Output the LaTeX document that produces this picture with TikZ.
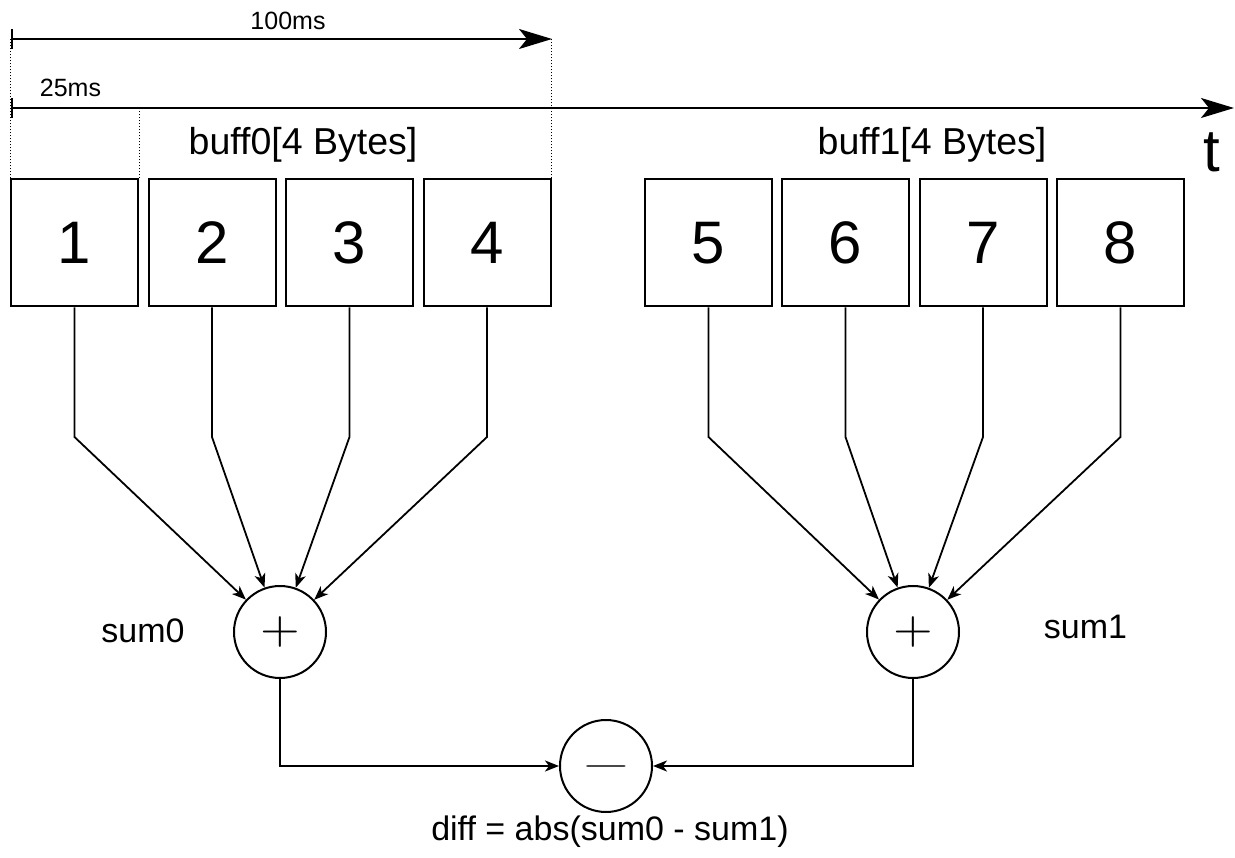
\documentclass[tikz,border=0pt]{standalone}
\usepackage{graphicx}
\usepackage{fontspec}
\setmainfont{Liberation Sans}
\usetikzlibrary{arrows.meta,calc}
\begin{document}
\begin{tikzpicture}[x=1pt,y=-1pt,
  box/.style={draw, line width=2pt, minimum width=127pt, minimum height=127pt, inner sep=0pt, font=\fontsize{60}{60}\selectfont},
  op/.style={draw, circle, line width=2pt, minimum size=92pt, inner sep=0pt},
  conn/.style={line width=1.8pt, -{Stealth[length=14pt,width=11pt,inset=4pt]}},
  axis/.style={line width=2pt, {Bar[width=20pt]}-{Stealth[length=33pt,width=20pt,inset=8pt]}},
  guide/.style={line width=0.9pt, dash pattern=on 1.5pt off 1.5pt},
  lbl/.style={anchor=base, inner sep=0pt}]
\useasboundingbox (0,0) rectangle (1235,858);

% boxes
\node[box] (b1) at (74.5,243) {1};
\node[box] (b2) at (212,243) {2};
\node[box] (b3) at (349.5,243) {3};
\node[box] (b4) at (487,243) {4};
\node[box] (b5) at (708.5,243) {5};
\node[box] (b6) at (845.5,243) {6};
\node[box] (b7) at (983,243) {7};
\node[box] (b8) at (1120.5,243) {8};

% operators
\node[op] (s0) at (280,632) {\scalebox{5.1}[4.6]{$+$}};
\node[op] (s1) at (913,632) {\scalebox{5.1}[4.6]{$+$}};
\node[op] (d) at (606,766) {\scalebox{6.4}[3.6]{$-$}};

% time axes
\coordinate (a0) at (11,39);
\coordinate (a1) at (552,39);
\coordinate (t0) at (11,108);
\coordinate (t1) at (1234,108);
\draw[axis] (a0) -- (a1);
\draw[axis] (t0) -- (t1);

% guides
\draw[guide] (b1.north west) -- (b1.north west |- a0);
\draw[guide] (b1.north east) -- (b1.north east |- t0);
\draw[guide] (b4.north east) -- (b4.north east |- a0);

% connectors
\coordinate (bend) at (0,437);
\foreach \b in {b1,b2,b3,b4}{
  \draw[conn] (\b.south) -- (\b.south |- bend) -- (s0);
}
\foreach \b in {b5,b6,b7,b8}{
  \draw[conn] (\b.south) -- (\b.south |- bend) -- (s1);
}
\draw[conn] (s0.south) |- (d.west);
\draw[conn] (s1.south) |- (d.east);

% labels
\node[lbl, font=\fontsize{25}{25}\selectfont] (l100) at (288,30) {100ms};
\node[lbl, font=\fontsize{25}{25}\selectfont] (l25) at (70.5,97) {25ms};
\node[lbl, font=\fontsize{37.5}{37.5}\selectfont] (lb0) at (303,155) {buff0[4 Bytes]};
\node[lbl, font=\fontsize{37.5}{37.5}\selectfont] (lb1) at (932,155) {buff1[4 Bytes]};
\node[lbl, font=\fontsize{60}{60}\selectfont] (lt) at (1212,172) {t};
\node[lbl, font=\fontsize{34}{34}\selectfont] (ls0) at (143,642) {sum0};
\node[lbl, font=\fontsize{34}{34}\selectfont] (ls1) at (1085.5,638) {sum1};
\node[lbl, font=\fontsize{34}{34}\selectfont] (ldiff) at (610,840) {diff = abs(sum0 - sum1)};
\end{tikzpicture}
\end{document}
